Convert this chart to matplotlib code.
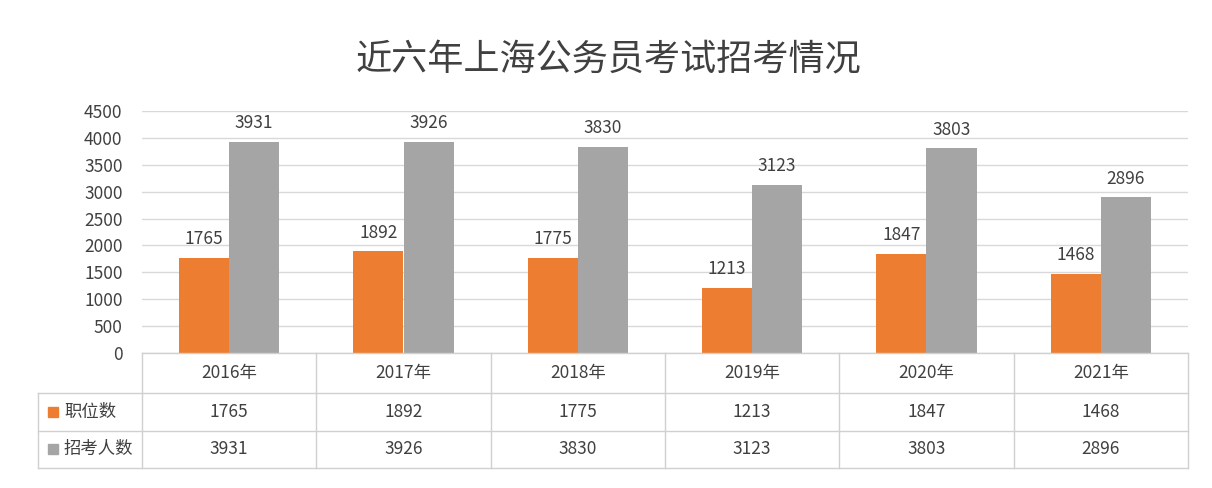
import matplotlib
matplotlib.use("Agg")
import matplotlib.pyplot as plt
from matplotlib.lines import Line2D
import numpy as np

plt.rcParams['font.family'] = ['Noto Sans CJK SC', 'DejaVu Sans']

years = ["2016年", "2017年", "2018年", "2019年", "2020年", "2021年"]
positions = [1765, 1892, 1775, 1213, 1847, 1468]
applicants = [3931, 3926, 3830, 3123, 3803, 2896]
series_names = ["职位数", "招考人数"]
colors = ["#ED7D31", "#A5A5A5"]
title = "近六年上海公务员考试招考情况"

W, H = 1212, 488
fig = plt.figure(figsize=(W/100, H/100), dpi=100)
fig.patch.set_facecolor("white")
L, R, T, B = 142, 1188, 111, 353
ax = fig.add_axes([L/W, 1-B/H, (R-L)/W, (B-T)/H])
n = len(years)
x = np.arange(n)
bw = 0.287
txt = "#404040"
ax.bar(x - bw/2, positions, bw, color=colors[0], zorder=3)
ax.bar(x + bw/2, applicants, bw, color=colors[1], zorder=3)
for i in range(n):
    ax.text(x[i]-bw/2, positions[i]+180, str(positions[i]), ha="center", va="bottom", fontsize=12.5, color=txt)
    ax.text(x[i]+bw/2, applicants[i]+180, str(applicants[i]), ha="center", va="bottom", fontsize=12.5, color=txt)
ax.set_xlim(-0.5, n-0.5)
ax.set_ylim(0, 4500)
ax.set_yticks(range(0, 4501, 500))
ax.tick_params(axis="y", length=0, labelsize=12.5, labelcolor=txt, pad=14)
ax.set_xticks([])
ax.grid(axis="y", color="#d9d9d9", lw=1, zorder=0)
for s in ax.spines.values():
    s.set_visible(False)

fig.text(608/W, 1-60/H, title, ha="center", va="center", fontsize=26, color="#404040")

lc = "#d0d0d0"
def hline(y, x0, x1):
    fig.add_artist(Line2D([x0/W, x1/W], [1-y/H, 1-y/H], color=lc, lw=1))
def vline(xp, y0, y1):
    fig.add_artist(Line2D([xp/W, xp/W], [1-y0/H, 1-y1/H], color=lc, lw=1))
rows = [353, 393, 431, 468]
hline(353, L, R)
for y in rows[1:]:
    hline(y, 38, R)
vline(38, 393, 468)
cw = (R-L)/n
for i in range(n+1):
    vline(L+i*cw, 353, 468)
for i in range(n):
    cx = (L + (i+0.5)*cw)/W
    fig.text(cx, 1-373/H, years[i], ha="center", va="center", fontsize=12.5, color=txt)
    fig.text(cx, 1-412/H, str(positions[i]), ha="center", va="center", fontsize=12.5, color=txt)
    fig.text(cx, 1-449/H, str(applicants[i]), ha="center", va="center", fontsize=12.5, color=txt)
for j, (yc, nm) in enumerate(zip([412, 449], series_names)):
    fig.patches.append(plt.Rectangle((48/W, 1-(yc+5)/H), 10/W, 10/H, transform=fig.transFigure, color=colors[j]))
    fig.text(64/W, 1-yc/H, nm, ha="left", va="center", fontsize=12.5, color=txt)

fig.savefig("out.png", dpi=100)
